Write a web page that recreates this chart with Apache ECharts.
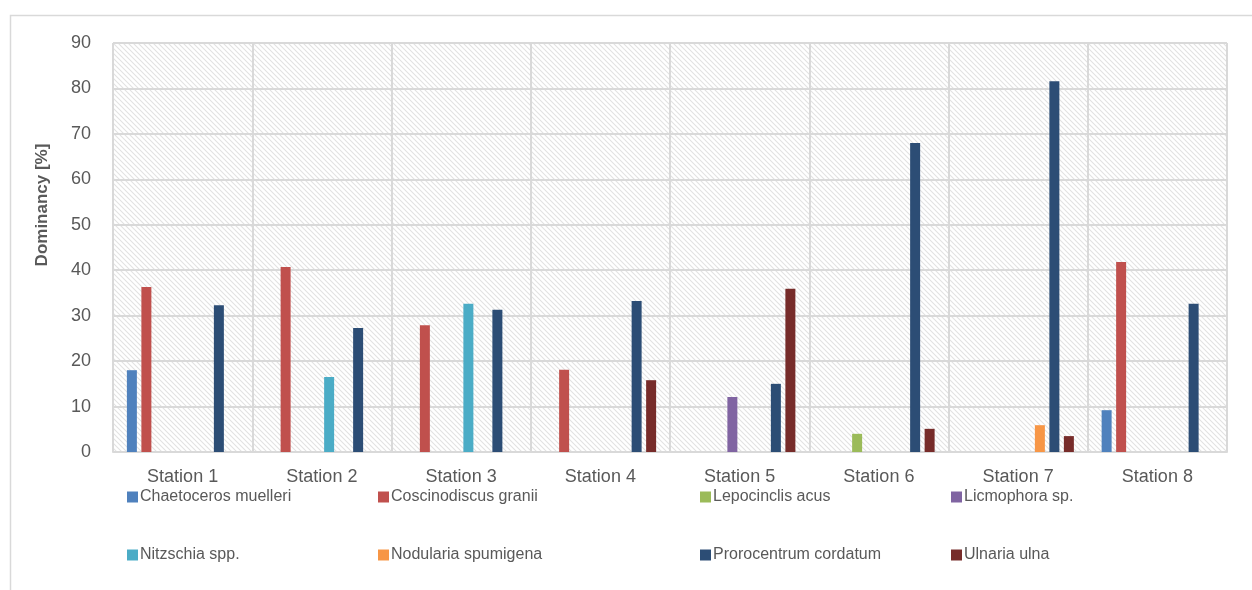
<!DOCTYPE html>
<html>
<head>
<meta charset="utf-8">
<script src="https://cdn.jsdelivr.net/npm/echarts@6/dist/echarts.min.js"></script>
<style>
  html, body { margin: 0; padding: 0; background: #ffffff; }
  #chart { width: 1252px; height: 590px; }
</style>
</head>
<body>
<div id="chart"></div>
<script>
// Sampling stations along the x axis
const stations = ['Station 1', 'Station 2', 'Station 3', 'Station 4',
                  'Station 5', 'Station 6', 'Station 7', 'Station 8'];

// Dominancy [%] of each taxon per station
const chaetocerosMuelleri   = [18.0, 0,    0,    0,    0,    0,    0,    9.2];
const coscinodiscusGranii   = [36.3, 40.7, 27.9, 18.1, 0,    0,    0,    41.8];
const lepocinclisAcus       = [0,    0,    0,    0,    0,    4.0,  0,    0];
const licmophoraSp          = [0,    0,    0,    0,    12.1, 0,    0,    0];
const nitzschiaSpp          = [0,    16.5, 32.6, 0,    0,    0,    0,    0];
const nodulariaSpumigena    = [0,    0,    0,    0,    0,    0,    5.9,  0];
const prorocentrumCordatum  = [32.3, 27.3, 31.3, 33.2, 15.0, 68.0, 81.6, 32.6];
const ulnariaUlna           = [0,    0,    0,    15.8, 35.9, 5.1,  3.5,  0];

const taxa = [
  { name: 'Chaetoceros muelleri',  data: chaetocerosMuelleri,  color: '#4F81BD' },
  { name: 'Coscinodiscus granii',  data: coscinodiscusGranii,  color: '#C0504D' },
  { name: 'Lepocinclis acus',      data: lepocinclisAcus,      color: '#9BBB59' },
  { name: 'Licmophora sp.',        data: licmophoraSp,         color: '#8064A2' },
  { name: 'Nitzschia spp.',        data: nitzschiaSpp,         color: '#4BACC6' },
  { name: 'Nodularia spumigena',   data: nodulariaSpumigena,   color: '#F79646' },
  { name: 'Prorocentrum cordatum', data: prorocentrumCordatum, color: '#2C4D75' },
  { name: 'Ulnaria ulna',          data: ulnariaUlna,          color: '#772C2A' }
];

const yTicks = { min: 0, max: 90, interval: 10 };

// Diagonal hatch tile for the plot background
function hatchTile() {
  const s = 5;
  const c = document.createElement('canvas');
  c.width = s; c.height = s;
  const g = c.getContext('2d');
  g.fillStyle = '#ffffff';
  g.fillRect(0, 0, s, s);
  g.strokeStyle = '#e2e2e2';
  g.lineWidth = 1.1;
  for (const off of [-s, 0, s]) {
    g.beginPath();
    g.moveTo(off - 1, -1);
    g.lineTo(off + s + 1, s + 1);
    g.stroke();
  }
  return c;
}

const FONT = '"Liberation Sans", Arial, sans-serif';
const TEXT_COLOR = '#595959';

// Legend laid out as four columns of two entries
const legendColumns = [
  { left: 127, items: [taxa[0].name, taxa[4].name] },
  { left: 378, items: [taxa[1].name, taxa[5].name] },
  { left: 700, items: [taxa[2].name, taxa[6].name] },
  { left: 951, items: [taxa[3].name, taxa[7].name] }
];

const chart = echarts.init(document.getElementById('chart'), null, { renderer: 'canvas' });

chart.setOption({
  animation: false,
  backgroundColor: '#ffffff',
  textStyle: { fontFamily: FONT },
  graphic: [
    {
      type: 'rect',
      left: 8, top: 13,
      shape: { width: 1400, height: 800 },
      style: { fill: 'none', stroke: '#d9d9d9', lineWidth: 1.5 },
      silent: true, z: -10
    },
    {
      type: 'text',
      x: 42, y: 205,
      rotation: Math.PI / 2,
      style: {
        text: 'Dominancy [%]',
        fill: TEXT_COLOR,
        font: 'bold 17px ' + FONT,
        align: 'center',
        verticalAlign: 'middle'
      }
    }
  ],
  legend: legendColumns.map(col => ({
    orient: 'vertical',
    left: col.left,
    top: 487,
    itemWidth: 11,
    itemHeight: 11,
    itemGap: 38,
    icon: 'rect',
    padding: 0,
    data: col.items,
    textStyle: { color: TEXT_COLOR, fontSize: 16, lineHeight: 20, fontFamily: FONT, padding: [0, 0, 0, -3] }
  })),
  grid: {
    left: 113, right: 25, top: 43, bottom: 138,
    show: true,
    borderWidth: 0,
    backgroundColor: { image: hatchTile(), repeat: 'repeat' }
  },
  xAxis: {
    type: 'category',
    data: stations,
    axisLine: { show: true, lineStyle: { color: '#d9d9d9', width: 2 } },
    axisTick: { show: false },
    axisLabel: { color: TEXT_COLOR, fontSize: 18, margin: 16, fontFamily: FONT },
    splitLine: { show: true, lineStyle: { color: '#d9d9d9', width: 2 } }
  },
  yAxis: {
    type: 'value',
    min: yTicks.min, max: yTicks.max, interval: yTicks.interval,
    axisLine: { show: false },
    axisTick: { show: false },
    axisLabel: { color: TEXT_COLOR, fontSize: 18, margin: 22, fontFamily: FONT },
    splitLine: { show: true, lineStyle: { color: '#d9d9d9', width: 2 } }
  },
  series: taxa.map(t => ({
    name: t.name,
    type: 'bar',
    data: t.data,
    barWidth: 10,
    barGap: '45%',
    itemStyle: { color: t.color },
    emphasis: { disabled: true }
  }))
});
</script>
</body>
</html>
